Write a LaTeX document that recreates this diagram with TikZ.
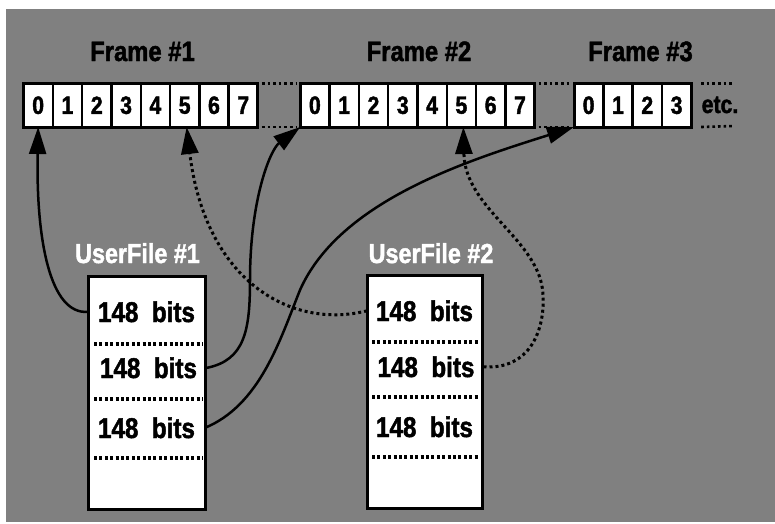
\documentclass[tikz,border=0pt]{standalone}
\usepackage{fontspec}
\setmainfont{Liberation Sans}[FakeStretch=0.85, BoldFeatures={FakeBold=1.6}]
\usetikzlibrary{arrows.meta}
\definecolor{bggray}{RGB}{128,128,128}
\begin{document}
\begin{tikzpicture}[x=1pt,y=-1pt,
  cellbox/.style={draw, fill=white, line width=2.4pt, minimum width=29.3pt,
    minimum height=43.5pt, inner sep=0pt, outer sep=0pt, anchor=north west,
    font=\fontsize{25}{26}\selectfont\bfseries},
  framelabel/.style={anchor=base, inner sep=0pt, font=\fontsize{28}{30}\selectfont\bfseries},
  filelabel/.style={anchor=base, inner sep=0pt, text=white, font=\fontsize{27.5}{30}\selectfont\bfseries},
  filebox/.style={draw, fill=white, line width=3pt, anchor=north west, inner sep=0pt, outer sep=0pt},
  rowtext/.style={anchor=base, inner sep=0pt, outer sep=0pt, font=\fontsize{28.5}{30}\selectfont\bfseries},
  sepdots/.style={line width=3.5pt, dash pattern=on 3pt off 2.4pt},
  gapdots/.style={line width=2.6pt, dash pattern=on 2.6pt off 3pt},
  link/.style={line width=2.5pt, -{Triangle[length=27pt,width=17pt]}},
  dottedlink/.style={line width=3pt, dash pattern=on 3pt off 3pt, -{Triangle[length=27pt,width=17pt]}}
]
\useasboundingbox (0,0) rectangle (775,523);
\fill[bggray] (6,9) rectangle (775,522);

% frame labels
\node[framelabel] (lab1) at (142.5,61) {Frame \#1};
\node[framelabel] (lab2) at (419,61) {Frame \#2};
\node[framelabel] (lab3) at (640.5,61) {Frame \#3};

% frame cells
\foreach \i in {0,...,7} \node[cellbox] (f1c\i) at ({23.5+29.3*\i},83.5) {\i};
\foreach \i in {0,...,7} \node[cellbox] (f2c\i) at ({300.2+29.3*\i},83.5) {\i};
\foreach \i in {0,...,3} \node[cellbox] (f3c\i) at ({574+29.3*\i},83.5) {\i};
\draw[line width=3pt] (f1c0.north west) rectangle (f1c7.south east);
\draw[line width=3pt] (f2c0.north west) rectangle (f2c7.south east);
\draw[line width=3pt] (f3c0.north west) rectangle (f3c3.south east);

% dotted continuation between frames
\draw[gapdots] ([xshift=4pt]f1c7.north east) -- ([xshift=-4pt]f2c0.north west);
\draw[gapdots] ([xshift=4pt]f1c7.south east) -- ([xshift=-4pt]f2c0.south west);
\draw[gapdots] ([xshift=4pt]f2c7.north east) -- ([xshift=-4pt]f3c0.north west);
\draw[gapdots] ([xshift=4pt]f2c7.south east) -- ([xshift=-4pt]f3c0.south west);
\coordinate (etcT) at (734,83.5);
\coordinate (etcB) at (734,126);
\draw[gapdots] ([xshift=10pt]f3c3.north east) -- (etcT);
\draw[gapdots] ([xshift=10pt]f3c3.south east) -- (etcB);
\node[anchor=base, inner sep=0pt, font=\fontsize{25}{27}\selectfont\bfseries] (etc) at (720,113) {etc.};

% user files
\node[filelabel] (ufl1) at (137.5,263) {UserFile \#1};
\node[filelabel] (ufl2) at (431,263) {UserFile \#2};
\node[filebox, minimum width=117pt, minimum height=233pt] (uf1) at (88,276) {};
\node[filebox, minimum width=115pt, minimum height=233pt] (uf2) at (367,275) {};

\node[rowtext, minimum width=117pt] (r11) at (146.5,322) {148~ bits};
\node[rowtext, minimum width=117pt] (r12) at (148.5,378) {148~ bits};
\node[rowtext, minimum width=117pt] (r13) at (146.5,438) {148~ bits};
\node[rowtext, minimum width=115pt] (r21) at (424.5,321) {148~ bits};
\node[rowtext, minimum width=115pt] (r22) at (426,377) {148~ bits};
\node[rowtext, minimum width=115pt] (r23) at (424.5,437) {148~ bits};

\foreach \y in {344,399,458} \draw[sepdots] (94,\y) -- (203,\y);
\foreach \y in {342,397,457} \draw[sepdots] (372,\y) -- (479,\y);

% bit groups mapped into frame slots
\draw[link] (r11.west) .. controls (50,315) and (36,240) .. (f1c0.south);
\draw[link] (r12.east) .. controls (245,360) and (250,330) .. (250,280)
  .. controls (250,200) and (270,150) .. (f2c0.south west);
\draw[link] (r13.east) .. controls (260,405) and (280,340) .. (300,290)
  .. controls (340,200) and (470,160) .. (f3c0.south west);
\draw[dottedlink] (r21.west) .. controls (290,330) and (205,280) .. ([xshift=2pt]f1c5.south);
\draw[dottedlink] (r22.east) .. controls (530,370) and (545,330) .. (543,295)
  .. controls (541,240) and (465,210) .. ([xshift=2pt]f2c5.south);
\end{tikzpicture}
\end{document}
